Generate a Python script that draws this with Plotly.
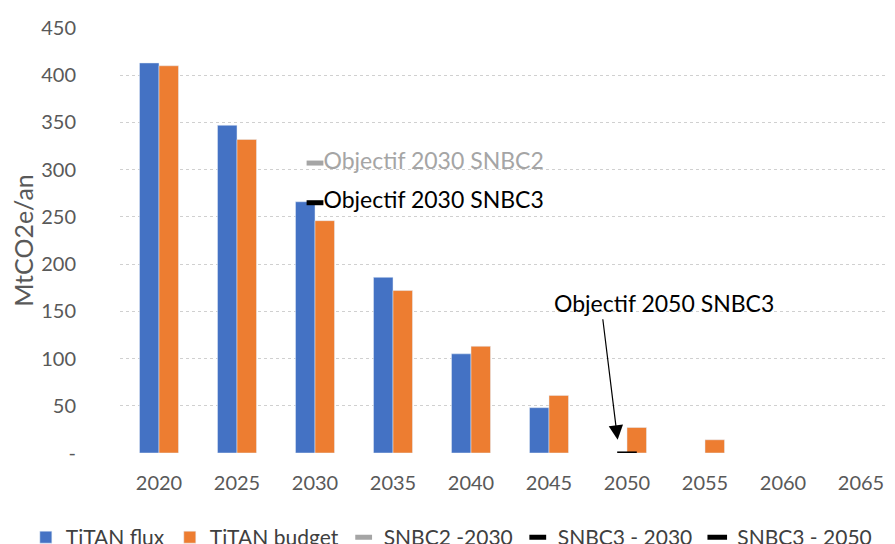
import plotly.graph_objects as go

years = ["2020", "2025", "2030", "2035", "2040", "2045", "2050", "2055", "2060", "2065"]
titan_flux = [413, 347, 266, 186, 105, 48, None, None, None, None]
titan_budget = [410, 332, 246, 172, 113, 61, 27, 14, None, None]
snbc2_2030_x = ["2030"]
snbc2_2030_y = [307]
snbc3_2030_x = ["2030"]
snbc3_2030_y = [265]
snbc3_2050_x = ["2050"]
snbc3_2050_y = [-1]
y_ticks = [0, 50, 100, 150, 200, 250, 300, 350, 400, 450]
y_ticktext = ["-", "50", "100", "150", "200", "250", "300", "350", "400", "450"]

FONT = "Lato, 'Open Sans', sans-serif"
FS = 20
AFS = 23
fig = go.Figure()
fig.add_trace(go.Bar(x=years, y=titan_flux, name="TiTAN flux", marker_color="#4472C4"))
fig.add_trace(go.Bar(x=years, y=titan_budget, name="TiTAN budget", marker_color="#ED7D31"))
fig.add_trace(go.Scatter(x=snbc2_2030_x, y=snbc2_2030_y, name="SNBC2 -2030", mode="markers+text",
                         marker=dict(symbol="line-ew", size=12, line=dict(width=5, color="#A5A5A5"), color="#A5A5A5"),
                         text=["Objectif 2030 SNBC2"], textposition="middle right",
                         textfont=dict(color="#A5A5A5", size=AFS, family=FONT)))
fig.add_trace(go.Scatter(x=snbc3_2030_x, y=snbc3_2030_y, name="SNBC3 - 2030", mode="markers+text",
                         marker=dict(symbol="line-ew", size=12, line=dict(width=5, color="black"), color="black"),
                         text=["Objectif 2030 SNBC3"], textposition="middle right",
                         textfont=dict(color="black", size=AFS, family=FONT)))
fig.add_trace(go.Scatter(x=snbc3_2050_x, y=snbc3_2050_y, name="SNBC3 - 2050", mode="markers",
                         marker=dict(symbol="line-ew", size=14, line=dict(width=5, color="black"), color="black")))

fig.add_annotation(x=5.88, y=14, xref="x", yref="y", ax=-15, ay=-122, axref="pixel", ayref="pixel",
                   text="", showarrow=True, arrowhead=2, arrowsize=2.4, arrowwidth=1.2, arrowcolor="black")
fig.add_annotation(x=6.47, y=159, xref="x", yref="y", text="Objectif 2050 SNBC3", showarrow=False,
                   font=dict(size=AFS, color="black", family=FONT))

fig.update_layout(
    width=895, height=544,
    margin=dict(l=112, r=8, t=20, b=99, autoexpand=False),
    plot_bgcolor="white", paper_bgcolor="white",
    barmode="group", bargap=0.5, bargroupgap=0,
    font=dict(family=FONT, size=FS, color="#595959"),
    legend=dict(orientation="h", x=-0.1215, xanchor="left", y=-0.1506, yanchor="top",
                font=dict(size=21, color="#404040"), itemwidth=30, tracegroupgap=0),
    showlegend=True,
)
fig.update_xaxes(type="category", range=[-0.5, 9.436], showgrid=False, showline=False,
                 ticks="", tickfont=dict(size=FS, color="#595959"), automargin=False,
                 ticklabelstandoff=16)
fig.update_yaxes(range=[0, 450], tickvals=y_ticks, ticktext=y_ticktext, showgrid=True,
                 gridcolor="#D0D0D0", griddash="dot", gridwidth=1, zeroline=False,
                 title=dict(text="MtCO2e/an", font=dict(size=25, color="#595959"), standoff=16),
                 tickfont=dict(size=FS, color="#595959"), ticklabelstandoff=43, automargin=False)
fig.write_html("out.html")
